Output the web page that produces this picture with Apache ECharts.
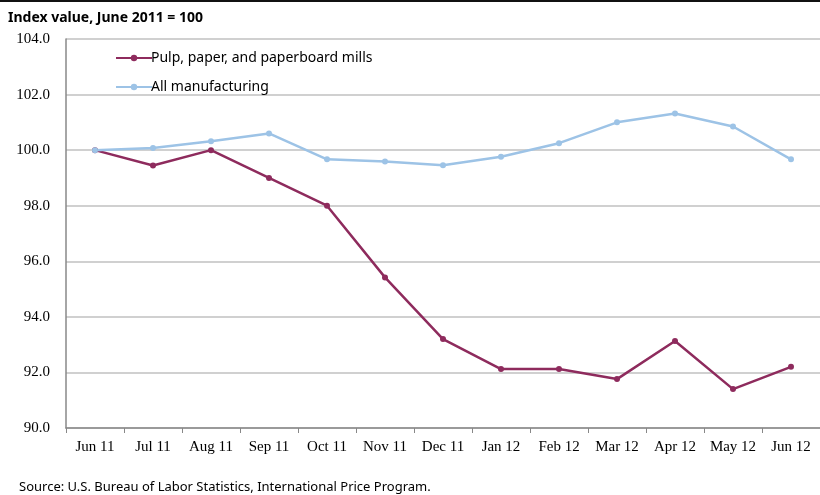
<!DOCTYPE html>
<html>
<head>
<meta charset="utf-8" />
<title>Pulp and paper import prices</title>
<style>
  html, body { margin: 0; padding: 0; background: #ffffff; }
  #chart { width: 820px; height: 495px; }
</style>
</head>
<body>
<div id="chart"></div>
<script src="https://cdn.jsdelivr.net/npm/echarts@6/dist/echarts.min.js"></script>
<script>
// months on the x axis
var months = ["Jun 11", "Jul 11", "Aug 11", "Sep 11", "Oct 11", "Nov 11", "Dec 11",
  "Jan 12", "Feb 12", "Mar 12", "Apr 12", "May 12", "Jun 12"];
// index values (June 2011 = 100)
var pulpPaper = [100.0, 99.45, 100.0, 99.0, 98.0, 95.42, 93.2, 92.12, 92.12, 91.76, 93.13, 91.4, 92.2];
var allManufacturing = [100.0, 100.08, 100.32, 100.6, 99.67, 99.59, 99.46, 99.76, 100.25, 101.0, 101.32, 100.85, 99.67];

var chart = echarts.init(document.getElementById("chart"));
chart.setOption({
  backgroundColor: "#ffffff",
  animation: false,
  graphic: [
    { type: "line", shape: { x1: 0, y1: 1, x2: 820, y2: 1 }, style: { stroke: "#111111", lineWidth: 2 } },
    { type: "text", left: 8, top: 11, style: { text: "Index value, June 2011 = 100", font: "bold 14px 'Noto Sans'", fill: "#000000" } },
    { type: "text", left: 19, top: 481, style: { text: "Source: U.S. Bureau of Labor Statistics, International Price Program.", font: "13px 'Noto Sans'", fill: "#000000" } }
  ],
  legend: {
    orient: "vertical",
    left: 110,
    top: 46,
    itemGap: 15,
    itemWidth: 36,
    itemHeight: 8,
    textStyle: { fontFamily: "Noto Sans", fontSize: 14, color: "#000000", padding: [0, 0, 0, -6] },
    data: ["Pulp, paper, and paperboard mills", "All manufacturing"]
  },
  grid: { left: 66, right: 0, top: 39, bottom: 67, containLabel: false },
  xAxis: {
    type: "category",
    data: months,
    boundaryGap: true,
    axisLine: { lineStyle: { color: "#888888", width: 1.5 } },
    axisTick: { show: true, length: 5, lineStyle: { color: "#888888" } },
    axisLabel: { fontFamily: "Liberation Serif", fontSize: 15, color: "#000000", margin: 12, interval: 0 }
  },
  yAxis: {
    type: "value",
    min: 90,
    max: 104,
    interval: 2,
    axisLine: { show: true, lineStyle: { color: "#888888", width: 1.5 } },
    axisTick: { show: false },
    splitLine: { lineStyle: { color: "#c0c0c0", width: 1.5 } },
    axisLabel: {
      fontFamily: "Liberation Serif", fontSize: 15, color: "#000000", margin: 16,
      formatter: function (v) { return v.toFixed(1); }
    }
  },
  series: [
    {
      name: "Pulp, paper, and paperboard mills",
      type: "line",
      data: pulpPaper,
      color: "#8e2b5d",
      symbol: "circle",
      symbolSize: 6,
      lineStyle: { width: 2.5 }
    },
    {
      name: "All manufacturing",
      type: "line",
      data: allManufacturing,
      color: "#9dc3e6",
      symbol: "circle",
      symbolSize: 6,
      lineStyle: { width: 2.5 }
    }
  ]
});
</script>
</body>
</html>
